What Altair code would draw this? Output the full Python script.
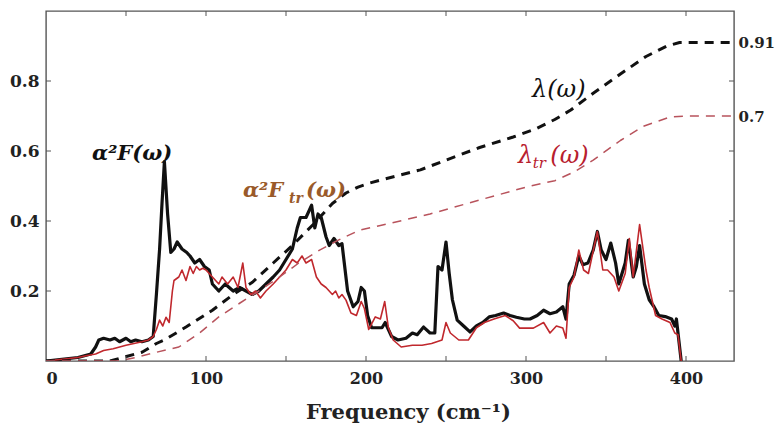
import altair as alt
import pandas as pd

# ---- data ----
# alpha^2 F(omega)  (black, solid)
w_a2F = [0, 10, 20, 28, 31, 33, 36, 40, 43, 46, 50, 53, 56, 60, 64, 67, 69, 71, 72.5, 74,
         76, 78, 80, 82, 85, 88, 90, 93, 96, 99, 102, 104, 108, 112, 117, 121, 125, 129, 133,
         137.5, 142, 146, 150, 154, 157, 159, 162.5, 166, 168, 170, 172, 175, 177, 180, 183,
         185, 188.5, 192, 195, 197, 199, 201, 203.5, 207, 210, 212, 216, 220, 225, 229, 232,
         236, 240, 243, 245, 247.5, 250, 252, 254, 257, 261, 265, 269, 273, 277, 281, 286,
         290, 294, 299, 302.5, 307, 311, 315, 319, 323, 325, 327, 330, 333, 335.6, 338.7,
         342, 344.6, 347, 350, 353, 356, 358, 362, 364, 367, 369, 371, 374, 377, 380, 383,
         387, 391, 393, 394, 395.5, 397]
v_a2F = [0, 0.005, 0.01, 0.02, 0.04, 0.06, 0.065, 0.06, 0.065, 0.055, 0.065, 0.055, 0.06,
         0.055, 0.06, 0.07, 0.19, 0.32, 0.45, 0.57, 0.42, 0.31, 0.32, 0.34, 0.32, 0.31, 0.30,
         0.28, 0.29, 0.27, 0.26, 0.22, 0.20, 0.22, 0.20, 0.21, 0.20, 0.19, 0.20, 0.22, 0.24,
         0.26, 0.29, 0.32, 0.38, 0.41, 0.41, 0.445, 0.38, 0.42, 0.41, 0.355, 0.33, 0.35, 0.33,
         0.335, 0.20, 0.155, 0.17, 0.21, 0.20, 0.13, 0.095, 0.095, 0.095, 0.11, 0.07, 0.06,
         0.065, 0.08, 0.075, 0.097, 0.08, 0.08, 0.27, 0.26, 0.34, 0.25, 0.175, 0.117, 0.10,
         0.083, 0.10, 0.11, 0.126, 0.13, 0.137, 0.13, 0.125, 0.12, 0.12, 0.13, 0.145, 0.135,
         0.14, 0.155, 0.12, 0.22, 0.245, 0.30, 0.275, 0.28, 0.317, 0.37, 0.317, 0.29, 0.337,
         0.28, 0.22, 0.28, 0.345, 0.24, 0.27, 0.33, 0.22, 0.175, 0.155, 0.13, 0.127, 0.12,
         0.10, 0.12, 0.06, 0.0]

# alpha^2 F_tr(omega)  (red, solid)
w_a2Ftr = [0, 10, 20, 25, 31, 36, 42, 46, 50, 55, 60, 64, 67, 69, 71, 73, 75, 77, 79, 80,
           83, 85, 87.5, 90, 92, 94, 96, 98, 100, 104, 108, 110, 113.5, 117, 120, 123, 125,
           128, 131, 134, 137.5, 142, 146, 150, 154, 157, 160, 162.5, 166, 169, 172, 175,
           177, 179, 181, 183, 185, 187.5, 190.6, 194, 197, 199, 201.7, 205.8, 209, 211.7,
           214, 217, 222, 229, 235, 241, 247.5, 250, 252.7, 258, 264, 269, 274, 280, 287,
           292, 296, 300, 304.6, 311, 315, 319, 323, 325, 327, 330, 333, 336, 339, 344.6,
           348, 351, 355, 358, 362, 364.6, 367, 371, 375, 377, 381, 385, 390, 393, 395, 397]
v_a2Ftr = [0, 0.005, 0.01, 0.015, 0.02, 0.03, 0.035, 0.04, 0.045, 0.05, 0.055, 0.06, 0.07,
           0.09, 0.117, 0.10, 0.125, 0.11, 0.20, 0.23, 0.24, 0.26, 0.23, 0.27, 0.25, 0.27,
           0.26, 0.265, 0.26, 0.24, 0.22, 0.24, 0.22, 0.24, 0.21, 0.28, 0.21, 0.19, 0.20,
           0.18, 0.20, 0.22, 0.24, 0.26, 0.29, 0.28, 0.30, 0.28, 0.29, 0.24, 0.22, 0.21,
           0.20, 0.19, 0.20, 0.18, 0.19, 0.174, 0.137, 0.13, 0.17, 0.15, 0.09, 0.126, 0.12,
           0.17, 0.095, 0.06, 0.04, 0.045, 0.045, 0.05, 0.06, 0.11, 0.08, 0.06, 0.06, 0.095,
           0.11, 0.12, 0.13, 0.115, 0.094, 0.094, 0.094, 0.11, 0.08, 0.10, 0.094, 0.065,
           0.21, 0.24, 0.317, 0.26, 0.25, 0.37, 0.26, 0.26, 0.24, 0.20, 0.25, 0.35, 0.24,
           0.39, 0.26, 0.21, 0.13, 0.12, 0.11, 0.08, 0.075, 0.0]

# lambda(omega)  (black, dashed)
w_lam = [0, 40, 48, 60, 69, 74, 87.5, 104, 117, 129, 142, 154, 167, 179, 187.5, 195, 202,
         210, 234, 250, 271, 292, 306, 318, 328, 342, 359, 375, 388, 396, 430]
v_lam = [0, 0.0, 0.01, 0.025, 0.05, 0.06, 0.097, 0.145, 0.19, 0.225, 0.28, 0.33, 0.39, 0.45,
         0.48, 0.497, 0.508, 0.518, 0.546, 0.574, 0.61, 0.64, 0.663, 0.69, 0.717, 0.765,
         0.82, 0.87, 0.90, 0.91, 0.91]

# lambda_tr(omega)  (red, dashed)
w_lamtr = [0, 45, 56, 69, 83, 96, 108, 121, 133, 146, 158, 171, 183, 196, 209, 240, 271,
           302.5, 318, 330, 342, 359, 373, 390, 400, 430]
v_lamtr = [0, 0.0, 0.01, 0.025, 0.04, 0.08, 0.126, 0.165, 0.2, 0.24, 0.28, 0.317, 0.346,
           0.374, 0.387, 0.42, 0.46, 0.5, 0.515, 0.54, 0.574, 0.63, 0.67, 0.697, 0.70, 0.70]

x_tick_labels = [0, 100, 200, 300, 400]
x_minor_ticks = [50, 100, 150, 200, 250, 300, 350, 400]
y_ticks = [0.2, 0.4, 0.6, 0.8]
right_labels = [0.7, 0.91]

# annotation text pieces (x in cm^-1, y in data units at the text baseline)
ann_text = ["α²F(ω)", "α²F", "tr", "(ω)", "λ(ω)", "λ", "tr", "(ω)"]
ann_x = [28.75, 123.1, 151.9, 162.5, 303.75, 295.0, 304.2, 315.2]
ann_y = [0.574, 0.469, 0.451, 0.469, 0.754, 0.566, 0.551, 0.566]
ann_size = [21, 21, 14, 21, 24, 24, 15, 24]
ann_weight = ["bold", "bold", "bold", "bold", "normal", "normal", "normal", "normal"]
ann_color = ["#111111", "#9a5a2a", "#9a5a2a", "#9a5a2a", "#111111", "#b8202e", "#b8202e",
             "#b8202e"]

# ---- chart ----
W, H = 688, 350
FONT = "DejaVu Serif"
xs = alt.Scale(domain=[0, 430], nice=False, zero=False)
ys = alt.Scale(domain=[0, 1.0], nice=False)

xax = alt.Axis(values=x_tick_labels, ticks=False, domain=False, grid=False,
               labelFont=FONT, labelFontWeight="bold", labelFontSize=16,
               labelPadding=9, labelColor="#222",
               title="Frequency (cm⁻¹)", titleFont=FONT, titleFontWeight="bold",
               titleFontSize=21, titlePadding=15, titleColor="#222", titleX=362)
yax = alt.Axis(values=y_ticks, format=".1f", ticks=False, domain=False, grid=False,
               labelFont=FONT, labelFontWeight="bold", labelFontSize=17,
               labelPadding=7, labelColor="#222", title=None)


def series(w, v, color, width, dash=None, first=False):
    df = pd.DataFrame({"w": w, "v": v})
    kw = dict(color=color, strokeWidth=width, clip=True, strokeJoin="round")
    if dash is not None:
        kw["strokeDash"] = dash
    return alt.Chart(df).mark_line(**kw).encode(
        x=alt.X("w:Q", scale=xs, axis=xax),
        y=alt.Y("v:Q", scale=ys, axis=yax if first else None),
    )


black = series(w_a2F, v_a2F, "#111111", 3.2, first=True)
red = series(w_a2Ftr, v_a2Ftr, "#c0282d", 1.6)
lam = series(w_lam, v_lam, "#111111", 3.0, dash=[9, 7])
lamtr = series(w_lamtr, v_lamtr, "#b8535c", 1.5, dash=[9, 7])

ann_df = pd.DataFrame({"t": ann_text, "x": ann_x, "y": ann_y})
texts = []
for i in range(len(ann_text)):
    sub = ann_df.iloc[[i]]
    texts.append(
        alt.Chart(sub).mark_text(align="left", baseline="alphabetic", font=FONT,
                                 fontStyle="italic", fontWeight=ann_weight[i],
                                 fontSize=ann_size[i], color=ann_color[i]).encode(
            x=alt.X("x:Q", scale=xs, axis=xax),
            y=alt.Y("y:Q", scale=ys, axis=None),
            text="t:N",
        )
    )

xt_df = pd.DataFrame({"w": x_minor_ticks})
yt_df = pd.DataFrame({"v": y_ticks})
tick_color = "#555555"
bottom_ticks = alt.Chart(xt_df).mark_rule(color=tick_color, strokeWidth=1).encode(
    x=alt.X("w:Q", scale=xs, axis=xax), y=alt.value(H), y2=alt.value(H - 5))
top_ticks = alt.Chart(xt_df).mark_rule(color=tick_color, strokeWidth=1).encode(
    x=alt.X("w:Q", scale=xs, axis=xax), y=alt.value(0), y2=alt.value(5))
left_ticks = alt.Chart(yt_df).mark_rule(color=tick_color, strokeWidth=1).encode(
    y=alt.Y("v:Q", scale=ys, axis=None), x=alt.value(0), x2=alt.value(5))
right_ticks = alt.Chart(yt_df).mark_rule(color=tick_color, strokeWidth=1).encode(
    y=alt.Y("v:Q", scale=ys,
            axis=alt.Axis(orient="right", values=right_labels, format=".2~f",
                          ticks=False, domain=False, grid=False, labelFont=FONT,
                          labelFontWeight="bold", labelFontSize=15, labelPadding=4,
                          labelColor="#222", title=None)),
    x=alt.value(W - 5), x2=alt.value(W))

chart = alt.layer(
    black, red, lam, lamtr, *texts, bottom_ticks, top_ticks, left_ticks, right_ticks
).resolve_scale(y="independent").properties(
    width=W, height=H,
    autosize=alt.AutoSizeParams(type="none"),
    padding={"left": 38, "top": 3, "right": 41, "bottom": 64},
    background="white",
).configure_view(stroke="#555555", strokeWidth=1.4)

chart.save("out.html", embed_options={"renderer": "svg", "actions": False})
